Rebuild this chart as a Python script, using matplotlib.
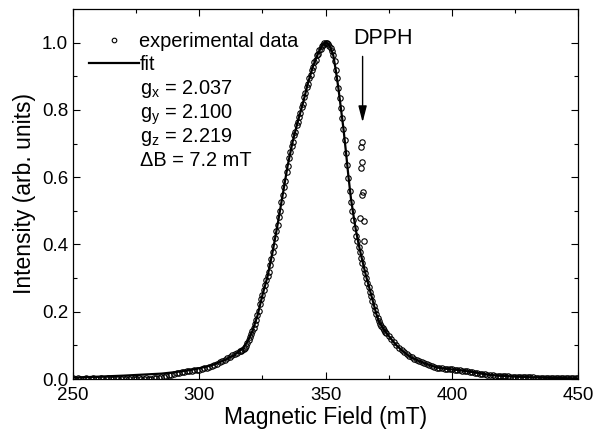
import numpy as np
import matplotlib
matplotlib.use('Agg')
import matplotlib.pyplot as plt
import matplotlib.transforms as mtransforms

plt.rcParams['font.family'] = ['Liberation Sans', 'DejaVu Sans']
plt.rcParams['mathtext.fontset'] = 'custom'
plt.rcParams['mathtext.rm'] = 'Liberation Sans'
plt.rcParams['mathtext.it'] = 'Liberation Sans:italic'
plt.rcParams['mathtext.default'] = 'regular'

# ---------------- data ----------------
left_tail_field = np.arange(250.0, 316.0, 1.0)          # 250 .. 315 mT
left_tail_int = [0.002, 0.001, 0.002, 0.001, 0.001, 0.002, 0.001, 0.001, 0.002, 0.001,
                 0.001, 0.002, 0.001, 0.001, 0.002, 0.001, 0.001, 0.002, 0.001, 0.001,
                 0.002, 0.001, 0.001, 0.002, 0.001, 0.001, 0.002, 0.001, 0.001, 0.002,
                 0.001, 0.001, 0.002, 0.002,
                 0.003, 0.005, 0.007, 0.009, 0.011, 0.013, 0.015, 0.017, 0.018, 0.020,
                 0.021, 0.023, 0.024, 0.025, 0.026, 0.027, 0.028, 0.030, 0.032, 0.034,
                 0.037, 0.040, 0.043, 0.046, 0.050, 0.054, 0.058, 0.062, 0.066, 0.070,
                 0.074, 0.078]

core_field = np.arange(316.0, 374.01, 0.5)             # 316 .. 374 mT
core_int = [0.082, 0.084, 0.086, 0.088, 0.091, 0.098, 0.108, 0.117, 0.126, 0.133,
            0.142, 0.153, 0.165, 0.176, 0.190, 0.203, 0.222, 0.237, 0.250, 0.266,
            0.279, 0.294, 0.305, 0.318, 0.340, 0.356, 0.378, 0.396, 0.420, 0.440,
            0.458, 0.482, 0.500, 0.526, 0.546, 0.572, 0.590, 0.616, 0.634, 0.658,
            0.674, 0.694, 0.706, 0.724, 0.734, 0.754, 0.764, 0.780, 0.790, 0.808,
            0.818, 0.838, 0.849, 0.868, 0.878, 0.895, 0.903, 0.920, 0.928, 0.942,
            0.948, 0.962, 0.966, 0.978, 0.982, 0.991, 0.994, 0.999, 1.000, 0.998,
            0.996, 0.990, 0.984, 0.975, 0.962, 0.945, 0.920, 0.896, 0.866, 0.836,
            0.806, 0.776, 0.744, 0.712, 0.672, 0.636, 0.598, 0.560, 0.526, 0.498,
            0.472, 0.450, 0.425, 0.410, 0.392, 0.378, 0.360, 0.344, 0.328, 0.314,
            0.300, 0.286, 0.274, 0.260, 0.246, 0.232, 0.218, 0.204, 0.192, 0.180,
            0.171, 0.164, 0.158, 0.152, 0.146, 0.141, 0.136]

right_tail_field = np.arange(375.0, 450.01, 1.0)       # 375 .. 450 mT
right_tail_int = [0.127, 0.118, 0.109, 0.100, 0.093, 0.086, 0.080, 0.074, 0.068, 0.064,
                  0.060, 0.056, 0.053, 0.050, 0.047, 0.044, 0.041, 0.038, 0.036, 0.034,
                  0.033, 0.032, 0.031, 0.030, 0.030, 0.029, 0.028, 0.027, 0.026, 0.025,
                  0.024, 0.023, 0.021, 0.020, 0.019, 0.017, 0.016, 0.015, 0.014, 0.013,
                  0.012, 0.011, 0.010, 0.010, 0.009, 0.009, 0.008, 0.008, 0.007, 0.007,
                  0.007, 0.006, 0.006, 0.006, 0.005, 0.005, 0.005, 0.005, 0.004, 0.004,
                  0.004, 0.004, 0.004, 0.003, 0.003, 0.003, 0.003, 0.003, 0.003, 0.002,
                  0.002, 0.002, 0.002, 0.002, 0.002, 0.002]

dpph_field = [364.3, 364.1, 364.5, 364.0, 364.8, 364.4, 363.5, 365.0, 365.0]
dpph_int = [0.705, 0.690, 0.645, 0.628, 0.555, 0.548, 0.480, 0.470, 0.410]

fit_field = [250, 260, 270, 280, 285, 290, 295, 300, 305, 310,
             314, 317, 319, 321, 323, 325, 327, 329, 331, 333,
             335, 337, 339, 341, 343, 345, 347, 348.5, 349.5, 350.2,
             351, 352, 353, 354, 355, 356, 357, 358, 359, 360,
             361, 362, 363, 364, 365, 366, 367, 368, 369, 370,
             371, 372, 374, 376, 378, 380, 383, 386, 390, 394,
             398, 402, 406, 410, 414, 418, 425, 432, 440, 450]
fit_int = [0.004, 0.007, 0.010, 0.014, 0.016, 0.020, 0.025, 0.032, 0.041, 0.056,
           0.072, 0.090, 0.110, 0.142, 0.188, 0.250, 0.305, 0.378, 0.460, 0.548,
           0.636, 0.708, 0.766, 0.820, 0.880, 0.930, 0.968, 0.990, 0.998, 1.000,
           0.996, 0.984, 0.962, 0.918, 0.866, 0.806, 0.746, 0.676, 0.602, 0.536,
           0.486, 0.440, 0.402, 0.368, 0.336, 0.305, 0.278, 0.250, 0.222, 0.194,
           0.173, 0.159, 0.137, 0.118, 0.100, 0.086, 0.068, 0.056, 0.044, 0.034,
           0.030, 0.027, 0.023, 0.018, 0.013, 0.010, 0.007, 0.005, 0.003, 0.002]

param_lines = [r'g$_x$ = 2.037', r'g$_y$ = 2.100', r'g$_z$ = 2.219', '\u0394B = 7.2 mT']

exp_field = np.concatenate([left_tail_field, core_field, right_tail_field, dpph_field])
exp_int = np.concatenate([left_tail_int, core_int, right_tail_int, dpph_int])

# ---------------- figure ----------------
fig = plt.figure(figsize=(5.94, 4.34), dpi=100)
ax = fig.add_axes([0.1227, 0.1267, 0.9739 - 0.1227, 0.9793 - 0.1267])

pts, = ax.plot(exp_field, exp_int, linestyle='none', marker='o', ms=3.9,
               mfc='none', mec='black', mew=0.8, label='experimental data', zorder=2)
fitline, = ax.plot(fit_field, fit_int, color='black', lw=1.6, label='fit', zorder=3)

ax.set_xlim(250, 450)
ax.set_ylim(0, 1.1)
ax.set_xticks([250, 300, 350, 400, 450])
ax.set_xticks([275, 325, 375, 425], minor=True)
ax.set_yticks([0.0, 0.2, 0.4, 0.6, 0.8, 1.0])
ax.set_yticks([0.1, 0.3, 0.5, 0.7, 0.9], minor=True)
ax.set_yticklabels(['0.0', '0.2', '0.4', '0.6', '0.8', '1.0'])
ax.tick_params(which='both', direction='in', top=True, right=True, labelsize=13.5, width=0.8)
ax.tick_params(which='major', length=5)
ax.tick_params(which='minor', length=3)
ax.tick_params(axis='x', pad=6)
for s in ax.spines.values():
    s.set_linewidth(0.9)

ax.set_xlabel('Magnetic Field (mT)', fontsize=16.5, labelpad=1)
ax.set_ylabel('Intensity (arb. units)', fontsize=16.5, labelpad=4)

leg = ax.legend(handles=[pts, fitline], loc='upper left', bbox_to_anchor=(0.0324, 0.938),
                frameon=False, fontsize=14.4, handlelength=2.5, handletextpad=0.0,
                labelspacing=0.2, borderaxespad=0, borderpad=0, numpoints=1,
                markerscale=0.85)

blend = mtransforms.blended_transform_factory(ax.transAxes, ax.transData)
ys = [0.846, 0.775, 0.705, 0.634]
for t, y in zip(param_lines, ys):
    ax.text(0.1327, y, t, transform=blend, fontsize=14.4, va='baseline', ha='left')

ax.annotate('', xy=(364.6, 0.763), xytext=(364.6, 0.959),
            arrowprops=dict(arrowstyle='-|>,head_width=0.18,head_length=0.7',
                            color='black', lw=1.0, mutation_scale=14, shrinkA=0, shrinkB=0))
ax.text(372.6, 1.012, 'DPPH', ha='center', va='center', fontsize=15.5)

fig.savefig('out.png', dpi=100)
